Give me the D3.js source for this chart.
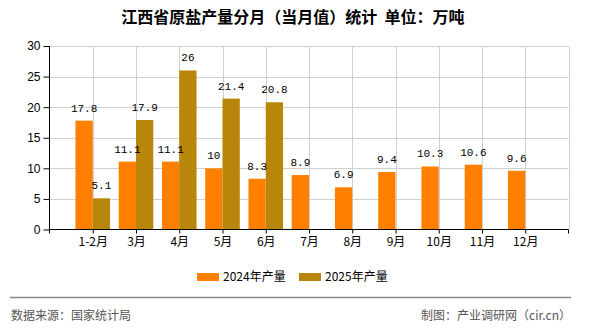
<!DOCTYPE html>
<html><head><meta charset="utf-8">
<script src="https://cdn.jsdelivr.net/npm/d3@7"></script>
<style>body{margin:0;background:#fff;}svg{display:block;}</style>
</head><body>
<svg id="c" width="590" height="330"></svg>
<script>
const categories = ["1-2月","3月","4月","5月","6月","7月","8月","9月","10月","11月","12月"];
const values2024 = [17.8,11.1,11.1,10,8.3,8.9,6.9,9.4,10.3,10.6,9.6];
const values2025 = [5.1,17.9,26,21.4,20.8];
const seriesNames = ["2024年产量","2025年产量"];
const yTicks = [0,5,10,15,20,25,30];
const colors = ["#FF8000","#B8860B"];

const svg = d3.select("#c");
const L=49.5, R=568.5, T=46, B=229.5;
const x = d3.scalePoint().domain(categories).range([L,R]).padding(1);
const step = x.step();
const bw = step*0.4;
const y = d3.scaleLinear().domain([0,30]).range([B,T]);
const cjk = "'Noto Sans CJK SC', 'Noto Sans', sans-serif";

// title
svg.append("text").attr("x",293).attr("y",23).attr("text-anchor","middle")
  .attr("font-family",cjk).attr("font-size",16).attr("font-weight","bold").attr("fill","#000")
  .attr("xml:space","preserve")
  .text("江西省原盐产量分月（当月值）统计  单位：万吨");

// grid
const g = svg.append("g");
g.selectAll("line.h").data(yTicks.filter(d=>d>0)).enter().append("line")
  .attr("x1",L).attr("x2",R).attr("y1",d=>Math.round(y(d))+0.5).attr("y2",d=>Math.round(y(d))+0.5)
  .attr("stroke","#d0d0d0").attr("stroke-width",1);
const vpos = categories.map(c=>x(c)).concat([R]);
g.selectAll("line.v").data(vpos).enter().append("line")
  .attr("x1",d=>Math.round(d)+0.5).attr("x2",d=>Math.round(d)+0.5).attr("y1",T).attr("y2",B)
  .attr("stroke","#d0d0d0").attr("stroke-width",1);

// bars
const series = [values2024, values2025];
const barLayer = svg.append("g");
const labelLayer = svg.append("g");
series.forEach((vals,si)=>{
  const data = vals.map((v,i)=>({c:categories[i],v}));
  const xoff = si===0 ? -bw : 0;
  barLayer.append("g").selectAll("rect").data(data).enter().append("rect")
    .attr("x",d=>x(d.c)+xoff).attr("width",bw)
    .attr("y",d=>y(d.v)).attr("height",d=>y(0)-y(d.v))
    .attr("fill",colors[si]);
  labelLayer.append("g").selectAll("text").data(data).enter().append("text")
    .attr("x",d=>x(d.c)+xoff+bw/2).attr("y",d=>y(d.v)-9)
    .attr("text-anchor","middle").attr("font-family","'Liberation Mono', monospace")
    .attr("font-size",11).attr("fill","#000").text(d=>d.v);
});

// axes
const yAxis = d3.axisLeft(y).tickValues(yTicks).tickSize(6).tickPadding(3);
const ya = svg.append("g").attr("transform",`translate(${L},0)`).call(yAxis);
ya.selectAll("text").attr("font-family","'Liberation Sans', sans-serif").attr("font-size",12).attr("fill","#000");
ya.select(".domain").attr("stroke","#000").attr("d",`M0,${T}V${B}`);
ya.selectAll(".tick line").attr("stroke","#000");

const xAxis = d3.axisBottom(x).tickSize(4).tickPadding(4);
const xa = svg.append("g").attr("transform",`translate(0,${B})`).call(xAxis);
xa.select(".domain").attr("stroke","#000").attr("d",`M${L},4V0H${R}V4`);
xa.selectAll(".tick line").attr("stroke","#000");
xa.selectAll("text").attr("font-family",cjk).attr("font-size",12).attr("fill","#000");

// legend
const lg = svg.append("g");
const lx = [197, 299];
seriesNames.forEach((n,i)=>{
  lg.append("rect").attr("x",lx[i]).attr("y",273).attr("width",22).attr("height",8).attr("fill",colors[i]);
  lg.append("text").attr("x",lx[i]+26).attr("y",281).attr("font-family",cjk).attr("font-size",12).attr("fill","#000").text(n);
});

// footer
svg.append("line").attr("x1",10).attr("x2",571).attr("y1",297.5).attr("y2",297.5).attr("stroke","#888").attr("stroke-width",1.5);
svg.append("text").attr("x",11).attr("y",320).attr("font-family",cjk).attr("font-size",12).attr("fill","#555").text("数据来源：国家统计局");
svg.append("text").attr("x",571).attr("y",320).attr("text-anchor","end").attr("font-family",cjk).attr("font-size",12).attr("fill","#555").text("制图：产业调研网（cir.cn）");
</script>
</body></html>
